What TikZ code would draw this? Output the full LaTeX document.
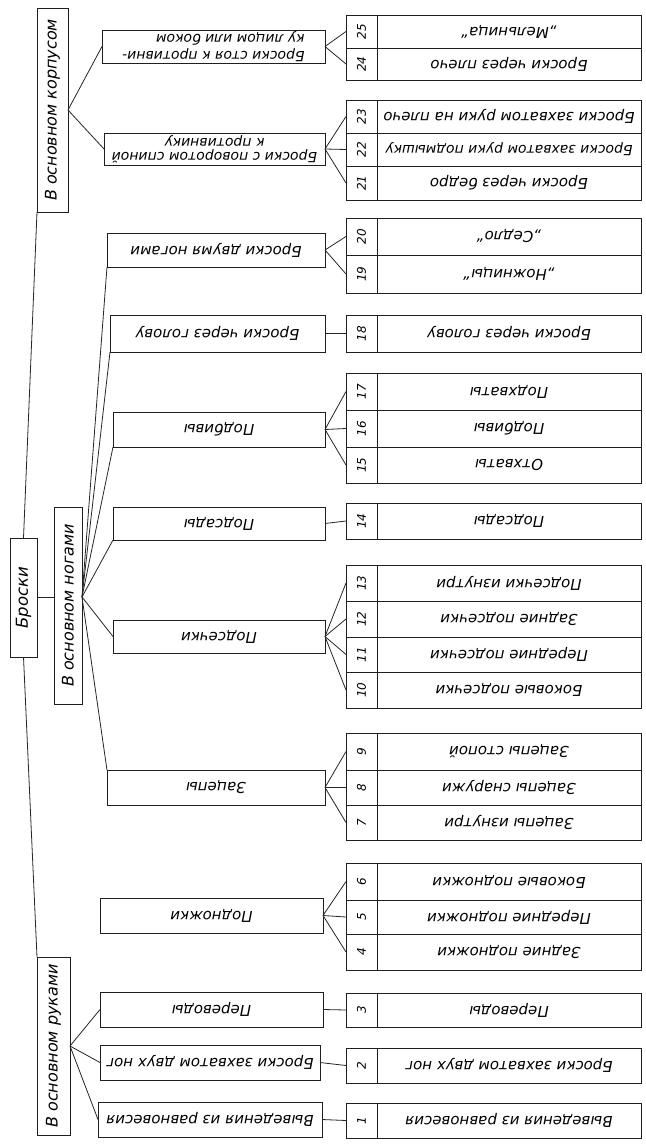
\documentclass[tikz,border=0pt]{standalone}
\usepackage{fontspec}
\setmainfont{DejaVu Sans}
\newcommand\lf{\fontsize{15}{14.5}\selectfont\itshape}
\newcommand\lfs{\fontsize{14}{14}\selectfont\itshape}
\newcommand\lft{\fontsize{14}{13}\selectfont\itshape}
\newcommand\lvf{\fontsize{16}{16}\selectfont\itshape}
\newcommand\rootf{\fontsize{16.5}{16}\selectfont\itshape}
\newcommand\numf{\fontsize{12}{12}\selectfont\itshape}
\newcommand\mybox[5]{\node[bx, minimum width={#3-#2}, minimum height={#5-#4}] (#1) at ({(#2+#3)/2},{(#4+#5)/2})}
\newcommand\myleaf[5]{%
  \node[bx, minimum width=31, minimum height={#4-#3}] (#1n) at (361.5,{(#3+#4)/2}) {\rotatebox{90}{\numf #2}};
  \node[bx, minimum width=264, minimum height={#4-#3}] (#1) at (509,{(#3+#4)/2}) {\rotatebox{180}{#5}};}
\tikzset{
  bx/.style={draw=black!88, line width=0.9pt, inner sep=0pt, outer sep=0pt},
  conn/.style={draw=black!85, line width=0.8pt},
}
\begin{document}
\begin{tikzpicture}[x=1pt,y=-1pt]
\useasboundingbox[fill=white] (0,0) rectangle (645,1145);
% root and level 2
\mybox{root}{10}{37}{538}{657} {\rotatebox{90}{\rootf Броски}};
\mybox{corp}{37}{68}{8}{212} {\rotatebox{90}{\lvf В основном корпусом}};
\mybox{legs}{54}{82}{507}{704} {\rotatebox{90}{\lvf В основном ногами}};
\mybox{arms}{37}{70}{957}{1135} {\rotatebox{90}{\lvf В основном руками}};
% level 3
\mybox{mA}{102}{325}{30}{63} {\rotatebox{180}{\lft\shortstack[l]{Броски стоя к противни-\\ку лицом или боком}}};
\mybox{mB}{104}{325}{133}{165} {\rotatebox{180}{\lft\shortstack{Броски с поворотом спиной\\к противнику}}};
\mybox{mC}{107}{325}{233}{267} {\rotatebox{180}{\lf Броски двумя ногами}};
\mybox{mD}{110}{325}{315}{352} {\rotatebox{180}{\lf Броски через голову}};
\mybox{mE}{113}{325}{412}{447} {\rotatebox{180}{\lf Подбивы}};
\mybox{mF}{113}{325}{507}{540} {\rotatebox{180}{\lf Подсады}};
\mybox{mG}{113}{325}{620}{653} {\rotatebox{180}{\lf Подсечки}};
\mybox{mH}{107}{325}{770}{805} {\rotatebox{180}{\lf Зацепы}};
\mybox{mI}{100}{323}{898}{933} {\rotatebox{180}{\lf Подножки}};
\mybox{mJ}{100}{323}{992}{1027} {\rotatebox{180}{\lf Переводы}};
\mybox{mK}{100}{320}{1045}{1080} {\rotatebox{180}{\lf Броски захватом двух ног}};
\mybox{mL}{98}{322}{1102}{1137} {\rotatebox{180}{\lf Выведения из равновесия}};
% leaves
\myleaf{l25}{25}{15}{48}{\lf „Мельница“}
\myleaf{l24}{24}{48}{80}{\lf Броски через плечо}
\myleaf{l23}{23}{100}{133}{\lf Броски захватом руки на плечо}
\myleaf{l22}{22}{133}{166}{\lfs Броски захватом руки подмышку}
\myleaf{l21}{21}{166}{200}{\lf Броски через бедро}
\myleaf{l20}{20}{218}{255}{\lf „Седло“}
\myleaf{l19}{19}{255}{293}{\lf „Ножницы“}
\myleaf{l18}{18}{315}{352}{\lf Броски через голову}
\myleaf{l17}{17}{373}{410}{\lf Подхваты}
\myleaf{l16}{16}{410}{447}{\lf Подбивы}
\myleaf{l15}{15}{447}{483}{\lf Отхваты}
\myleaf{l14}{14}{503}{539}{\lf Подсады}
\myleaf{l13}{13}{565}{601}{\lf Подсечки изнутри}
\myleaf{l12}{12}{601}{637}{\lf Задние подсечки}
\myleaf{l11}{11}{637}{672}{\lf Передние подсечки}
\myleaf{l10}{10}{672}{708}{\lf Боковые подсечки}
\myleaf{l9}{9}{733}{770}{\lf Зацепы стопой}
\myleaf{l8}{8}{770}{805}{\lf Зацепы снаружи}
\myleaf{l7}{7}{805}{840}{\lf Зацепы изнутри}
\myleaf{l6}{6}{863}{900}{\lf Боковые подножки}
\myleaf{l5}{5}{900}{934}{\lf Передние подножки}
\myleaf{l4}{4}{934}{970}{\lf Задние подножки}
\myleaf{l3}{3}{993}{1027}{\lf Переводы}
\myleaf{l2}{2}{1048}{1083}{\lf Броски захватом двух ног}
\myleaf{l1}{1}{1103}{1138}{\lf Выведения из равновесия}
% connectors root -> level 2
\draw[conn] (root.north) -- (corp.south west);
\draw[conn] (root.south) -- (arms.north west);
\draw[conn] (root.east) -- (root.east -| legs.west);
% level 2 -> level 3
\foreach \t in {mA,mB} \draw[conn] (corp.east) -- (\t.west);
\coordinate (lf) at (82,597);
\foreach \t in {mC,mD,mE,mF} \draw[conn] (lf) -- (\t.south west);
\draw[conn] (lf) -- (mG.west);
\draw[conn] (lf) -- (mH.north west);
\foreach \t in {mJ,mK,mL} \draw[conn] (arms.east) -- (\t.west);
% level 3 -> leaves
\foreach \t in {l25n,l24n} \draw[conn] (mA.east) -- (\t.west);
\foreach \t in {l23n,l22n,l21n} \draw[conn] (mB.east) -- (\t.west);
\foreach \t in {l20n,l19n} \draw[conn] (mC.east) -- (\t.west);
\draw[conn] (mD.east) -- (l18n.west);
\foreach \t in {l17n,l16n,l15n} \draw[conn] (mE.east) -- (\t.west);
\draw[conn] (mF.east) -- (l14n.west);
\foreach \t in {l13n,l12n,l11n,l10n} \draw[conn] (mG.east) -- (\t.west);
\foreach \t in {l9n,l8n,l7n} \draw[conn] (mH.east) -- (\t.west);
\foreach \t in {l6n,l5n,l4n} \draw[conn] (mI.east) -- (\t.west);
\draw[conn] (mJ.east) -- (l3n.west);
\draw[conn] (mK.east) -- (l2n.west);
\draw[conn] (mL.east) -- (l1n.west);
\end{tikzpicture}
\end{document}
